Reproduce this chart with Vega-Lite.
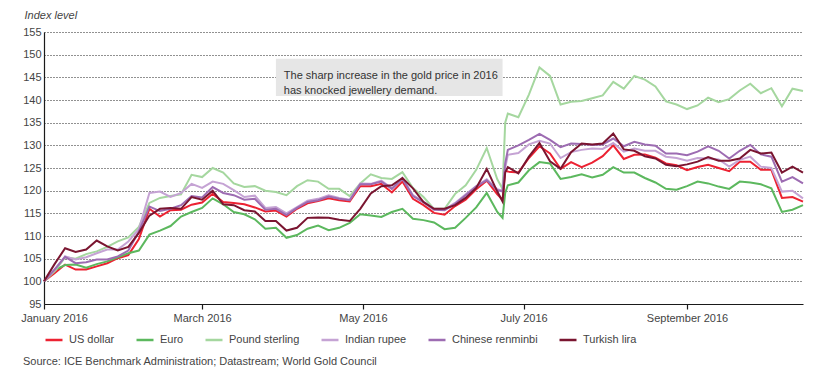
{
  "$schema": "https://vega.github.io/schema/vega-lite/v6.json",
  "width": 759,
  "height": 272,
  "autosize": "none",
  "padding": {"left": 44, "top": 32, "right": 25, "bottom": 83},
  "background": "white",
  "config": {
    "view": {"stroke": null},
    "font": "Liberation Sans",
    "axis": {"labelFont": "Liberation Sans", "titleFont": "Liberation Sans"},
    "legend": {"labelFont": "Liberation Sans"}
  },
  "title": {
    "text": "Source: ICE Benchmark Administration; Datastream; World Gold Council",
    "orient": "bottom",
    "anchor": "start",
    "frame": "group",
    "offset": 11,
    "dx": -21,
    "fontSize": 11,
    "fontWeight": "normal",
    "color": "#444444",
    "font": "Liberation Sans"
  },
  "data": {
    "values": [
      {"d":"2016-01-01","US dollar":100,"Euro":100,"Pound sterling":100,"Indian rupee":100,"Chinese renminbi":100,"Turkish lira":100},
      {"d":"2016-01-05","US dollar":101.8,"Euro":102.5,"Pound sterling":102.2,"Indian rupee":102.6,"Chinese renminbi":102.6,"Turkish lira":103.8},
      {"d":"2016-01-09","US dollar":103.7,"Euro":103.6,"Pound sterling":105.3,"Indian rupee":105.5,"Chinese renminbi":105.4,"Turkish lira":107.3},
      {"d":"2016-01-13","US dollar":102.6,"Euro":103.7,"Pound sterling":105.0,"Indian rupee":104.8,"Chinese renminbi":104.0,"Turkish lira":106.5},
      {"d":"2016-01-17","US dollar":102.6,"Euro":103.0,"Pound sterling":106.0,"Indian rupee":105.3,"Chinese renminbi":104.2,"Turkish lira":107.0},
      {"d":"2016-01-21","US dollar":103.3,"Euro":103.8,"Pound sterling":106.6,"Indian rupee":106.2,"Chinese renminbi":104.8,"Turkish lira":109.0},
      {"d":"2016-01-25","US dollar":104.0,"Euro":104.4,"Pound sterling":107.6,"Indian rupee":107.0,"Chinese renminbi":104.8,"Turkish lira":107.7},
      {"d":"2016-01-29","US dollar":105.1,"Euro":105.3,"Pound sterling":108.8,"Indian rupee":107.0,"Chinese renminbi":105.5,"Turkish lira":106.8},
      {"d":"2016-02-02","US dollar":105.8,"Euro":106.2,"Pound sterling":109.7,"Indian rupee":108.8,"Chinese renminbi":106.8,"Turkish lira":107.6},
      {"d":"2016-02-06","US dollar":109.3,"Euro":106.8,"Pound sterling":112.0,"Indian rupee":111.5,"Chinese renminbi":111.0,"Turkish lira":110.7},
      {"d":"2016-02-10","US dollar":116.0,"Euro":110.3,"Pound sterling":117.3,"Indian rupee":119.5,"Chinese renminbi":116.5,"Turkish lira":114.5},
      {"d":"2016-02-14","US dollar":114.3,"Euro":111.2,"Pound sterling":118.4,"Indian rupee":119.8,"Chinese renminbi":115.5,"Turkish lira":116.0},
      {"d":"2016-02-18","US dollar":115.7,"Euro":112.2,"Pound sterling":118.8,"Indian rupee":118.6,"Chinese renminbi":116.0,"Turkish lira":116.2},
      {"d":"2016-02-22","US dollar":115.8,"Euro":114.3,"Pound sterling":119.2,"Indian rupee":119.5,"Chinese renminbi":116.8,"Turkish lira":116.0},
      {"d":"2016-02-26","US dollar":116.9,"Euro":115.3,"Pound sterling":123.5,"Indian rupee":121.5,"Chinese renminbi":118.8,"Turkish lira":118.6},
      {"d":"2016-03-01","US dollar":117.4,"Euro":116.2,"Pound sterling":123.0,"Indian rupee":120.6,"Chinese renminbi":118.5,"Turkish lira":118.0},
      {"d":"2016-03-05","US dollar":119.3,"Euro":118.3,"Pound sterling":125.0,"Indian rupee":122.0,"Chinese renminbi":120.8,"Turkish lira":120.0},
      {"d":"2016-03-09","US dollar":117.5,"Euro":117.0,"Pound sterling":124.0,"Indian rupee":121.5,"Chinese renminbi":119.5,"Turkish lira":117.0},
      {"d":"2016-03-13","US dollar":117.3,"Euro":115.3,"Pound sterling":121.6,"Indian rupee":120.1,"Chinese renminbi":119.0,"Turkish lira":116.8},
      {"d":"2016-03-17","US dollar":117.0,"Euro":114.8,"Pound sterling":120.8,"Indian rupee":118.6,"Chinese renminbi":118.0,"Turkish lira":115.7},
      {"d":"2016-03-21","US dollar":116.3,"Euro":113.7,"Pound sterling":121.0,"Indian rupee":118.9,"Chinese renminbi":118.2,"Turkish lira":115.4},
      {"d":"2016-03-25","US dollar":115.4,"Euro":111.6,"Pound sterling":120.0,"Indian rupee":116.2,"Chinese renminbi":115.8,"Turkish lira":113.3},
      {"d":"2016-03-29","US dollar":115.6,"Euro":111.8,"Pound sterling":119.7,"Indian rupee":116.4,"Chinese renminbi":116.0,"Turkish lira":113.3},
      {"d":"2016-04-02","US dollar":114.3,"Euro":109.6,"Pound sterling":119.0,"Indian rupee":115.0,"Chinese renminbi":114.6,"Turkish lira":111.2},
      {"d":"2016-04-06","US dollar":116.0,"Euro":110.2,"Pound sterling":121.0,"Indian rupee":116.4,"Chinese renminbi":116.2,"Turkish lira":111.8},
      {"d":"2016-04-10","US dollar":117.2,"Euro":111.6,"Pound sterling":122.3,"Indian rupee":117.8,"Chinese renminbi":117.5,"Turkish lira":114.0},
      {"d":"2016-04-14","US dollar":117.7,"Euro":112.3,"Pound sterling":122.0,"Indian rupee":118.2,"Chinese renminbi":117.9,"Turkish lira":114.1},
      {"d":"2016-04-18","US dollar":118.3,"Euro":111.3,"Pound sterling":120.4,"Indian rupee":119.0,"Chinese renminbi":118.7,"Turkish lira":114.0},
      {"d":"2016-04-22","US dollar":117.9,"Euro":111.8,"Pound sterling":120.4,"Indian rupee":118.4,"Chinese renminbi":118.2,"Turkish lira":113.6},
      {"d":"2016-04-26","US dollar":117.6,"Euro":112.9,"Pound sterling":118.8,"Indian rupee":118.0,"Chinese renminbi":117.9,"Turkish lira":113.3},
      {"d":"2016-04-30","US dollar":121.0,"Euro":114.8,"Pound sterling":121.6,"Indian rupee":121.6,"Chinese renminbi":121.4,"Turkish lira":116.0},
      {"d":"2016-05-04","US dollar":121.0,"Euro":114.5,"Pound sterling":123.6,"Indian rupee":121.5,"Chinese renminbi":121.4,"Turkish lira":119.4},
      {"d":"2016-05-08","US dollar":121.5,"Euro":114.2,"Pound sterling":122.8,"Indian rupee":122.2,"Chinese renminbi":122.0,"Turkish lira":121.0},
      {"d":"2016-05-12","US dollar":119.6,"Euro":115.3,"Pound sterling":122.6,"Indian rupee":120.5,"Chinese renminbi":120.4,"Turkish lira":121.2},
      {"d":"2016-05-16","US dollar":122.0,"Euro":116.0,"Pound sterling":124.1,"Indian rupee":122.8,"Chinese renminbi":122.6,"Turkish lira":122.8},
      {"d":"2016-05-20","US dollar":118.2,"Euro":113.8,"Pound sterling":120.6,"Indian rupee":119.0,"Chinese renminbi":118.8,"Turkish lira":120.5},
      {"d":"2016-05-24","US dollar":116.8,"Euro":113.5,"Pound sterling":118.6,"Indian rupee":117.6,"Chinese renminbi":117.4,"Turkish lira":117.5},
      {"d":"2016-05-28","US dollar":115.1,"Euro":113.0,"Pound sterling":116.0,"Indian rupee":116.0,"Chinese renminbi":115.8,"Turkish lira":116.0},
      {"d":"2016-06-01","US dollar":114.7,"Euro":111.5,"Pound sterling":116.0,"Indian rupee":115.9,"Chinese renminbi":115.7,"Turkish lira":116.0},
      {"d":"2016-06-05","US dollar":116.6,"Euro":111.8,"Pound sterling":119.3,"Indian rupee":117.3,"Chinese renminbi":117.1,"Turkish lira":116.8},
      {"d":"2016-06-09","US dollar":118.0,"Euro":114.0,"Pound sterling":121.2,"Indian rupee":119.2,"Chinese renminbi":119.0,"Turkish lira":118.4},
      {"d":"2016-06-13","US dollar":120.3,"Euro":116.3,"Pound sterling":124.6,"Indian rupee":121.0,"Chinese renminbi":120.9,"Turkish lira":120.6},
      {"d":"2016-06-17","US dollar":122.2,"Euro":119.5,"Pound sterling":129.4,"Indian rupee":122.5,"Chinese renminbi":122.3,"Turkish lira":124.8},
      {"d":"2016-06-21","US dollar":119.2,"Euro":115.3,"Pound sterling":122.5,"Indian rupee":120.3,"Chinese renminbi":120.1,"Turkish lira":119.8},
      {"d":"2016-06-23","US dollar":118.0,"Euro":114.0,"Pound sterling":120.4,"Indian rupee":120.0,"Chinese renminbi":119.8,"Turkish lira":117.6},
      {"d":"2016-06-24","US dollar":124.5,"Euro":119.5,"Pound sterling":135.0,"Indian rupee":125.0,"Chinese renminbi":126.0,"Turkish lira":124.0},
      {"d":"2016-06-25","US dollar":124.2,"Euro":121.2,"Pound sterling":137.0,"Indian rupee":127.9,"Chinese renminbi":129.0,"Turkish lira":125.2},
      {"d":"2016-06-29","US dollar":124.0,"Euro":121.8,"Pound sterling":136.2,"Indian rupee":128.3,"Chinese renminbi":130.0,"Turkish lira":123.8},
      {"d":"2016-07-03","US dollar":127.2,"Euro":124.5,"Pound sterling":141.2,"Indian rupee":130.2,"Chinese renminbi":131.2,"Turkish lira":127.5},
      {"d":"2016-07-07","US dollar":129.8,"Euro":126.3,"Pound sterling":147.2,"Indian rupee":131.0,"Chinese renminbi":132.5,"Turkish lira":130.5},
      {"d":"2016-07-11","US dollar":128.2,"Euro":126.0,"Pound sterling":145.3,"Indian rupee":130.4,"Chinese renminbi":131.2,"Turkish lira":126.5},
      {"d":"2016-07-15","US dollar":124.8,"Euro":122.6,"Pound sterling":139.0,"Indian rupee":127.2,"Chinese renminbi":129.6,"Turkish lira":124.8},
      {"d":"2016-07-19","US dollar":126.3,"Euro":123.0,"Pound sterling":139.6,"Indian rupee":128.5,"Chinese renminbi":130.4,"Turkish lira":128.5},
      {"d":"2016-07-23","US dollar":125.2,"Euro":123.6,"Pound sterling":139.8,"Indian rupee":129.0,"Chinese renminbi":130.3,"Turkish lira":130.4},
      {"d":"2016-07-27","US dollar":126.2,"Euro":122.9,"Pound sterling":140.4,"Indian rupee":129.3,"Chinese renminbi":130.1,"Turkish lira":130.2},
      {"d":"2016-07-31","US dollar":127.6,"Euro":123.5,"Pound sterling":141.0,"Indian rupee":129.2,"Chinese renminbi":130.2,"Turkish lira":130.4},
      {"d":"2016-08-04","US dollar":130.0,"Euro":125.2,"Pound sterling":144.0,"Indian rupee":130.5,"Chinese renminbi":131.5,"Turkish lira":132.6},
      {"d":"2016-08-08","US dollar":127.0,"Euro":124.0,"Pound sterling":142.5,"Indian rupee":128.6,"Chinese renminbi":129.8,"Turkish lira":129.1},
      {"d":"2016-08-12","US dollar":127.9,"Euro":124.0,"Pound sterling":145.3,"Indian rupee":129.3,"Chinese renminbi":130.8,"Turkish lira":128.8},
      {"d":"2016-08-16","US dollar":128.0,"Euro":122.8,"Pound sterling":144.5,"Indian rupee":128.8,"Chinese renminbi":130.2,"Turkish lira":127.6},
      {"d":"2016-08-20","US dollar":127.3,"Euro":121.8,"Pound sterling":143.0,"Indian rupee":128.8,"Chinese renminbi":129.9,"Turkish lira":127.1},
      {"d":"2016-08-24","US dollar":126.0,"Euro":120.4,"Pound sterling":139.7,"Indian rupee":127.5,"Chinese renminbi":128.2,"Turkish lira":125.7},
      {"d":"2016-08-28","US dollar":125.6,"Euro":120.2,"Pound sterling":139.0,"Indian rupee":127.2,"Chinese renminbi":128.2,"Turkish lira":125.4},
      {"d":"2016-09-01","US dollar":124.5,"Euro":121.0,"Pound sterling":138.0,"Indian rupee":126.6,"Chinese renminbi":127.8,"Turkish lira":125.8},
      {"d":"2016-09-05","US dollar":125.2,"Euro":122.0,"Pound sterling":138.8,"Indian rupee":127.2,"Chinese renminbi":128.6,"Turkish lira":126.4},
      {"d":"2016-09-09","US dollar":125.7,"Euro":121.6,"Pound sterling":140.5,"Indian rupee":127.1,"Chinese renminbi":129.8,"Turkish lira":127.4},
      {"d":"2016-09-13","US dollar":125.0,"Euro":120.9,"Pound sterling":139.5,"Indian rupee":126.9,"Chinese renminbi":128.8,"Turkish lira":126.6},
      {"d":"2016-09-17","US dollar":124.3,"Euro":120.4,"Pound sterling":140.2,"Indian rupee":125.3,"Chinese renminbi":127.1,"Turkish lira":126.6},
      {"d":"2016-09-21","US dollar":126.4,"Euro":122.0,"Pound sterling":142.1,"Indian rupee":126.8,"Chinese renminbi":128.8,"Turkish lira":127.1},
      {"d":"2016-09-25","US dollar":126.4,"Euro":121.8,"Pound sterling":143.6,"Indian rupee":127.5,"Chinese renminbi":130.1,"Turkish lira":129.0},
      {"d":"2016-09-29","US dollar":124.6,"Euro":121.4,"Pound sterling":141.5,"Indian rupee":125.3,"Chinese renminbi":128.0,"Turkish lira":128.2},
      {"d":"2016-10-03","US dollar":124.6,"Euro":120.5,"Pound sterling":142.6,"Indian rupee":125.0,"Chinese renminbi":127.5,"Turkish lira":128.4},
      {"d":"2016-10-07","US dollar":118.4,"Euro":115.3,"Pound sterling":138.6,"Indian rupee":119.8,"Chinese renminbi":122.0,"Turkish lira":124.0},
      {"d":"2016-10-11","US dollar":118.6,"Euro":115.8,"Pound sterling":142.5,"Indian rupee":120.0,"Chinese renminbi":123.0,"Turkish lira":125.3},
      {"d":"2016-10-15","US dollar":117.6,"Euro":116.8,"Pound sterling":142.0,"Indian rupee":118.3,"Chinese renminbi":121.6,"Turkish lira":124.0}
    ]
  },
  "layer": [
    {
      "transform": [
        {"fold": ["US dollar","Euro","Pound sterling","Indian rupee","Chinese renminbi","Turkish lira"], "as": ["series","value"]}
      ],
      "mark": {"type": "line", "strokeWidth": 2, "interpolate": "linear"},
      "encoding": {
        "x": {
          "field": "d", "type": "temporal",
          "scale": {"type": "utc", "domain": [{"year": 2016, "month": 1, "date": 1, "utc": true}, {"year": 2016, "month": 10, "date": 15, "utc": true}]},
          "axis": {
            "title": null,
            "values": [
              {"year": 2016, "month": 1, "date": 1, "utc": true},
              {"year": 2016, "month": 3, "date": 1, "utc": true},
              {"year": 2016, "month": 5, "date": 1, "utc": true},
              {"year": 2016, "month": 7, "date": 1, "utc": true},
              {"year": 2016, "month": 9, "date": 1, "utc": true}
            ],
            "tickCount": 10,
            "format": "%B %Y",
            "grid": false,
            "domainColor": "#1a1a1a",
            "domainWidth": 1.2,
            "tickColor": "#1a1a1a",
            "tickSize": 5,
            "tickWidth": 1.2,
            "labelFontSize": 11,
            "labelColor": "#444444",
            "labelPadding": 3,
            "labelFlush": false,
            "labelOverlap": false,
            "labelOffset": {"condition": {"test": "month(datum.value) == 0", "value": 10}, "value": 0}
          }
        },
        "y": {
          "field": "value", "type": "quantitative",
          "scale": {"domain": [95, 155], "nice": false, "zero": false},
          "axis": {
            "title": "Index level",
            "titleAngle": 0,
            "titleAlign": "left",
            "titleBaseline": "middle",
            "titleX": -20,
            "titleY": -17,
            "titleFontSize": 11,
            "titleFontStyle": "italic",
            "titleFontWeight": "normal",
            "titleColor": "#444444",
            "values": [95,100,105,110,115,120,125,130,135,140,145,150,155],
            "tickCount": 20,
            "labelOverlap": false,
            "ticks": false,
            "labelPadding": 3,
            "labelFontSize": 11,
            "labelColor": "#444444",
            "domainColor": "#1a1a1a",
            "domainWidth": 1.2,
            "grid": true,
            "gridColor": "#222222",
            "gridDash": [1, 2],
            "gridWidth": 1
          }
        },
        "color": {
          "field": "series", "type": "nominal",
          "scale": {
            "domain": ["US dollar","Euro","Pound sterling","Indian rupee","Chinese renminbi","Turkish lira"],
            "range": ["#ec2232","#5cb85e","#a5d79f","#c5a3d4","#9d6cb2","#7a1530"]
          },
          "legend": {
            "title": null,
            "orient": "none",
            "legendX": 0,
            "legendY": 298,
            "direction": "horizontal",
            "columns": 6,
            "symbolType": "stroke",
            "symbolSize": 289,
            "symbolStrokeWidth": 2.5,
            "labelOffset": 5,
            "columnPadding": 16,
            "labelFontSize": 11,
            "labelColor": "#444444"
          }
        }
      }
    },
    {
      "data": {"values": [{}]},
      "mark": {"type": "rect", "color": "#e6e6e6"},
      "encoding": {
        "x": {"datum": {"year": 2016, "month": 3, "date": 29, "utc": true}, "type": "temporal"},
        "x2": {"datum": {"year": 2016, "month": 6, "date": 23, "utc": true}},
        "y": {"datum": 149.1},
        "y2": {"datum": 140.9}
      }
    },
    {
      "data": {"values": [{}]},
      "mark": {
        "type": "text",
        "text": ["The sharp increase in the gold price in 2016", "has knocked jewellery demand."],
        "align": "left",
        "baseline": "middle",
        "lineHeight": 15,
        "fontSize": 11,
        "color": "#333333",
        "font": "Liberation Sans"
      },
      "encoding": {
        "x": {"datum": {"year": 2016, "month": 4, "date": 1, "utc": true}, "type": "temporal"},
        "y": {"datum": 145.2}
      }
    }
  ]
}
